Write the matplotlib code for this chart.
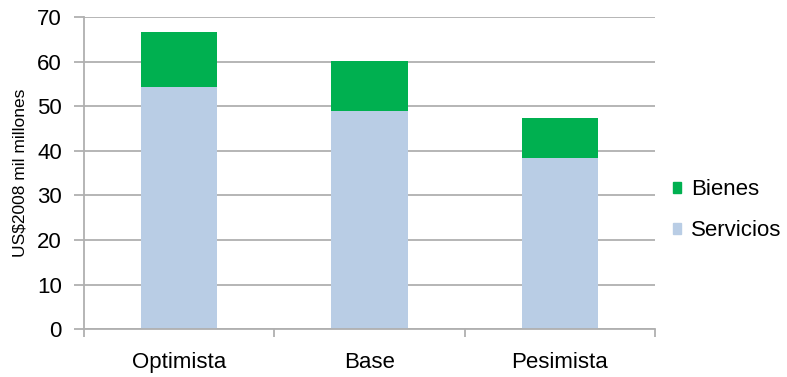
import numpy as np
import matplotlib.pyplot as plt
from matplotlib.patches import Patch

plt.rcParams['font.family'] = ['Liberation Sans', 'DejaVu Sans']

# datos
escenarios = ['Optimista', 'Base', 'Pesimista']
servicios = [54.2, 48.9, 38.3]
bienes = [12.4, 11.3, 9.0]

c_serv = '#B9CDE5'
c_bien = '#00B050'
gris = '#b0b0b0'

fig = plt.figure(figsize=(7.87, 3.77), dpi=100)
ax = fig.add_axes([0.1067, 0.1265, 0.7256, 0.8285])

x = np.arange(len(escenarios))
ax.bar(x, servicios, width=0.4, color=c_serv, zorder=2)
ax.bar(x, bienes, width=0.4, bottom=servicios, color=c_bien, zorder=2)

ax.set_xlim(-0.5, 2.5)
ax.set_ylim(0, 70)
ax.set_yticks(range(0, 71, 10))
ax.yaxis.grid(True, color=gris, lw=1.3, zorder=0)

ax.set_xticks(x)
ax.set_xticklabels(escenarios, fontsize=16)
ax.set_xticks([-0.5, 0.5, 1.5, 2.5], minor=True)
ax.tick_params(axis='x', which='major', length=0, pad=16)
ax.tick_params(axis='x', which='minor', length=6, color=gris, width=1.3)
ax.tick_params(axis='y', length=7, color=gris, width=1.3, labelsize=16, pad=9)

for s in ['top', 'right']:
    ax.spines[s].set_visible(False)
for s in ['left', 'bottom']:
    ax.spines[s].set_color(gris)
    ax.spines[s].set_linewidth(1.3)

ax.set_ylabel('US$2008 mil millones', fontsize=12.5, labelpad=7)

handles = [Patch(color=c_bien, label='Bienes'), Patch(color=c_serv, label='Servicios')]
fig.legend(handles=handles, loc='center left', bbox_to_anchor=(0.83, 0.442),
           frameon=False, fontsize=16, handlelength=0.35, handleheight=0.35,
           handletextpad=0.45, labelspacing=0.9)

fig.savefig('out.png', dpi=100)
